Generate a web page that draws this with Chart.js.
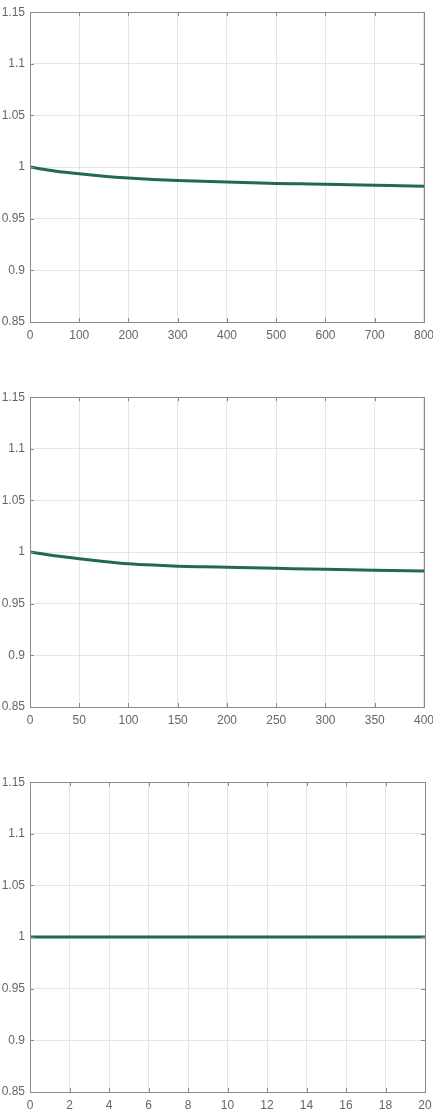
<!DOCTYPE html>
<html>
<head>
<meta charset="utf-8">
<script src="https://cdn.jsdelivr.net/npm/chart.js@4/dist/chart.umd.min.js"></script>
<style>
  html, body { margin: 0; padding: 0; background: #fff; width: 433px; height: 1117px; overflow: hidden; }
  .box { position: absolute; left: 0; width: 440px; height: 344px; }
</style>
</head>
<body>
<div class="box" style="top:0px"><canvas id="c1"></canvas></div>
<div class="box" style="top:385px"><canvas id="c2"></canvas></div>
<div class="box" style="top:770px"><canvas id="c3"></canvas></div>
<script>
// Panel 1
const x1 = [0, 50, 100, 150, 200, 250, 300, 350, 400, 450, 500, 550, 600, 650, 700, 750, 800];
const y1 = [1.000, 0.9963, 0.9935, 0.9912, 0.9894, 0.9880, 0.9870, 0.9862, 0.9855, 0.9848, 0.9842, 0.9838, 0.9834, 0.9829, 0.9825, 0.9820, 0.9815];
// Panel 2
const x2 = [0, 25, 50, 75, 100, 125, 150, 175, 200, 250, 300, 350, 400];
const y2 = [1.000, 0.9965, 0.9936, 0.9910, 0.9888, 0.9874, 0.9864, 0.9858, 0.9853, 0.9843, 0.9833, 0.9824, 0.9817];
// Panel 3
const x3 = [0, 2, 4, 6, 8, 10, 12, 14, 16, 18, 20];
const y3 = [1.000, 1.000, 1.000, 1.000, 1.000, 1.000, 1.000, 1.000, 1.000, 1.000, 1.000];

const yMin = 0.85, yMax = 1.15, yStep = 0.05;
const xMax1 = 800, xStep1 = 100;
const xMax2 = 400, xStep2 = 50;
const xMax3 = 20, xStep3 = 2;

const frameColor = '#8a8a8a';
const framePlugin = {
  id: 'frame',
  afterDraw(chart) {
    const { ctx, chartArea: a, scales } = chart;
    ctx.save();
    ctx.strokeStyle = frameColor;
    ctx.lineWidth = 1;
    const tl = 4;
    ctx.beginPath();
    scales.x.ticks.forEach(t => {
      const px = Math.round(scales.x.getPixelForValue(t.value)) + 0.5;
      ctx.moveTo(px, a.bottom); ctx.lineTo(px, a.bottom - tl);
      ctx.moveTo(px, a.top); ctx.lineTo(px, a.top + tl);
    });
    scales.y.ticks.forEach(t => {
      const py = Math.round(scales.y.getPixelForValue(t.value)) + 0.5;
      ctx.moveTo(a.left, py); ctx.lineTo(a.left + tl, py);
      ctx.moveTo(a.right, py); ctx.lineTo(a.right - tl, py);
    });
    ctx.stroke();
    ctx.strokeRect(Math.round(a.left) + 0.5, Math.round(a.top) + 0.5,
                   Math.round(a.right - a.left), Math.round(a.bottom - a.top));
    ctx.restore();
  }
};

function fmtY(v) {
  const r = Math.round(v * 100) / 100;
  return String(r);
}

const tickFont = { family: 'Liberation Sans, Arial, sans-serif', size: 12 };

function makeChart(id, xs, ys, xMax, xStep) {
  const pts = xs.map((x, i) => ({ x: x, y: ys[i] }));
  return new Chart(document.getElementById(id), {
    type: 'line',
    data: {
      datasets: [{
        data: pts,
        borderColor: '#23694f',
        borderWidth: 3,
        pointRadius: 0,
        fill: false,
        cubicInterpolationMode: 'monotone'
      }]
    },
    options: {
      responsive: true,
      maintainAspectRatio: false,
      animation: false,
      layout: { padding: { top: 11, left: 0, right: 15, bottom: 0 } },
      plugins: { legend: { display: false }, tooltip: { enabled: false } },
      scales: {
        x: {
          type: 'linear',
          min: 0, max: xMax,
          border: { display: false },
          grid: { color: '#e6e6e6', drawTicks: false, lineWidth: 1 },
          ticks: {
            stepSize: xStep,
            padding: 6,
            color: '#666',
            font: tickFont,
            maxRotation: 0,
            autoSkip: false
          },
          afterFit(s) { s.height = 22; }
        },
        y: {
          min: yMin, max: yMax,
          border: { display: false },
          grid: { color: '#e6e6e6', drawTicks: false, lineWidth: 1 },
          ticks: {
            stepSize: yStep,
            padding: 5,
            color: '#666',
            font: tickFont,
            callback: v => fmtY(v)
          },
          afterFit(s) { s.width = 30; }
        }
      }
    },
    plugins: [framePlugin]
  });
}

makeChart('c1', x1, y1, xMax1, xStep1);
makeChart('c2', x2, y2, xMax2, xStep2);
makeChart('c3', x3, y3, xMax3, xStep3);
</script>
</body>
</html>
